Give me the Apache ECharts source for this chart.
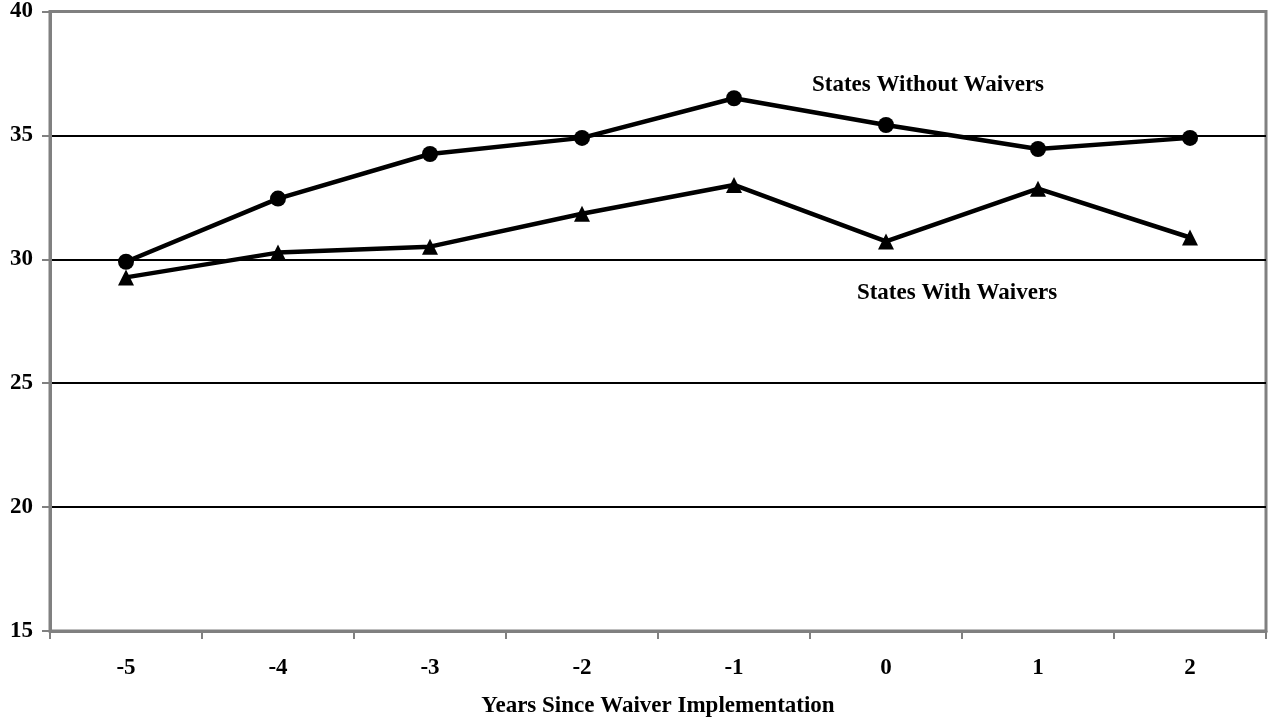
<!DOCTYPE html>
<html>
<head>
<meta charset="utf-8">
<script src="https://cdn.jsdelivr.net/npm/echarts@6/dist/echarts.min.js"></script>
<style>
    html, body { margin: 0; padding: 0; background: #fff; }
    #chart { width: 1270px; height: 723px; }
</style>
</head>
<body>
<div id="chart"></div>
<script>
var years = ['-5', '-4', '-3', '-2', '-1', '0', '1', '2'];
var withoutWaivers = [29.9, 32.45, 34.25, 34.9, 36.5, 35.42, 34.45, 34.9];
var withWaivers = [29.27, 30.27, 30.51, 31.84, 33.0, 30.72, 32.85, 30.88];
var yTicks = [15, 20, 25, 30, 35, 40];

document.addEventListener('DOMContentLoaded', function() {
    var chart = echarts.init(document.getElementById('chart'));
    var font = "'Liberation Serif', 'Times New Roman', serif";
    var gray = '#808080';

    var option = {
        animation: false,
        backgroundColor: '#fff',
        textStyle: { fontFamily: font },
        grid: {
            left: 50, right: 4, top: 10, bottom: 91,
            show: true,
            borderColor: gray,
            borderWidth: 3
        },
        xAxis: {
            type: 'category',
            data: years,
            boundaryGap: true,
            name: 'Years Since Waiver Implementation',
            nameLocation: 'middle',
            nameGap: 64,
            nameTextStyle: { fontFamily: font, fontWeight: 'bold', fontSize: 23, color: '#000' },
            axisLine: { lineStyle: { color: gray, width: 3 } },
            axisTick: { show: true, length: 8, lineStyle: { color: gray, width: 2 } },
            axisLabel: { margin: 26, fontFamily: font, fontWeight: 'bold', fontSize: 23, color: '#000' },
            splitLine: { show: false }
        },
        yAxis: {
            type: 'value',
            min: yTicks[0],
            max: yTicks[yTicks.length - 1],
            interval: 5,
            axisLine: { show: true, lineStyle: { color: gray, width: 3 } },
            axisTick: { show: true, length: 8, lineStyle: { color: gray, width: 2 } },
            axisLabel: { margin: 17, fontFamily: font, fontWeight: 'bold', fontSize: 23, color: '#000',
                         padding: [3, 0, 0, 0] },
            splitLine: {
                show: true,
                lineStyle: { color: [gray, '#000', '#000', '#000', '#000', gray], width: 2 }
            }
        },
        series: [
            {
                name: 'States Without Waivers',
                type: 'line',
                data: withoutWaivers,
                symbol: 'circle',
                symbolSize: 16,
                lineStyle: { color: '#000', width: 4.5 },
                itemStyle: { color: '#000' },
                z: 5
            },
            {
                name: 'States With Waivers',
                type: 'line',
                data: withWaivers,
                symbol: 'triangle',
                symbolSize: 16,
                lineStyle: { color: '#000', width: 4.5 },
                itemStyle: { color: '#000' },
                z: 5
            }
        ],
        graphic: [
            {
                type: 'text',
                x: 928, y: 85,
                style: {
                    text: 'States Without Waivers',
                    font: 'bold 23px ' + font,
                    fill: '#000',
                    align: 'center',
                    verticalAlign: 'middle'
                }
            },
            {
                type: 'text',
                x: 957, y: 293,
                style: {
                    text: 'States With Waivers',
                    font: 'bold 23px ' + font,
                    fill: '#000',
                    align: 'center',
                    verticalAlign: 'middle'
                }
            }
        ]
    };

    chart.setOption(option);
});
</script>
</body>
</html>
